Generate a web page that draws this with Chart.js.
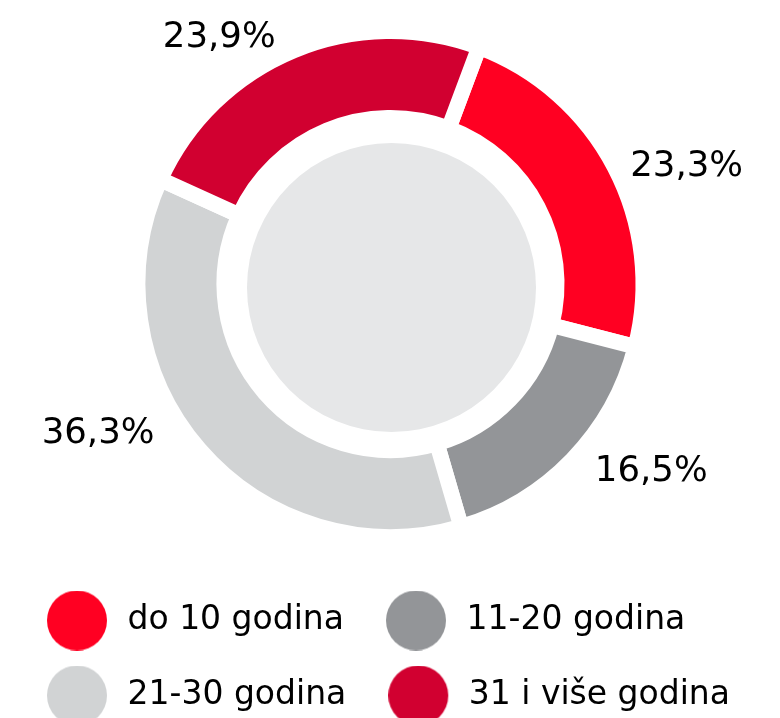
<!DOCTYPE html>
<html lang="hr">
<head>
<meta charset="utf-8">
<title>Starost</title>
<script src="https://cdn.jsdelivr.net/npm/chart.js@4.4.1/dist/chart.umd.min.js"></script>
<style>
  html, body { margin: 0; padding: 0; background: #fff; overflow: hidden; }
  #wrap { position: relative; width: 780px; height: 722px; }
</style>
</head>
<body>
<div id="wrap"><canvas id="age-chart"></canvas></div>
<script>
// ── Data ──
const categories  = ['do 10 godina', '11-20 godina', '21-30 godina', '31 i više godina'];
const shares      = [23.3, 16.5, 36.3, 23.9];
const shareLabels = ['23,3%', '16,5%', '36,3%', '23,9%'];

// ── Look ──
const colors     = ['#ff0022', '#939598', '#d1d3d4', '#d10030'];
const centerFill = '#e6e7e8';
const FONT       = '"DejaVu Sans", sans-serif';

// where each % label sits: shift from the slice's mid-angle (deg), distance from centre (px)
const labelShift = [5.3, -8.9, 14.3, -11.9];
const labelDist  = [320, 319, 327, 303];

// legend dot as a small canvas (chart.js draws canvas point styles as-is)
function dot(color) {
  const c = document.createElement('canvas');
  c.width = 64; c.height = 60;
  const g = c.getContext('2d');
  g.fillStyle = color;
  g.beginPath();
  g.arc(30, 30, 30, 0, Math.PI * 2);
  g.fill();
  return c;
}

// ── Centre disc + outside labels ──
const ringDecor = {
  id: 'ringDecor',
  beforeDatasetsDraw(chart) {
    const arc = chart.getDatasetMeta(0).data[0];
    if (!arc) return;
    const ctx = chart.ctx;
    ctx.save();
    ctx.fillStyle = centerFill;
    ctx.beginPath();
    ctx.arc(arc.x + 1, arc.y + 3.5, arc.innerRadius - 21.75, 0, Math.PI * 2);
    ctx.fill();
    ctx.restore();
  },
  afterDatasetsDraw(chart) {
    const ctx = chart.ctx;
    const size = 35.5;
    ctx.save();
    ctx.font = size + 'px ' + FONT;
    ctx.fillStyle = '#000';
    ctx.textAlign = 'center';
    ctx.textBaseline = 'alphabetic';
    chart.getDatasetMeta(0).data.forEach((arc, i) => {
      const a = (arc.startAngle + arc.endAngle) / 2 + labelShift[i] * Math.PI / 180;
      const x = arc.x + Math.cos(a) * labelDist[i];
      const y = arc.y + Math.sin(a) * labelDist[i];
      ctx.fillText(shareLabels[i], x, y + size * 0.3645);
    });
    ctx.restore();
  }
};

new Chart(document.getElementById('age-chart'), {
  type: 'doughnut',
  data: {
    labels: categories,
    datasets: [{
      data: shares,
      backgroundColor: colors,
      borderColor: '#ffffff',
      borderWidth: 15.5,
      borderJoinStyle: 'miter',
      hoverOffset: 0
    }]
  },
  options: {
    responsive: true,
    maintainAspectRatio: false,
    animation: false,
    events: [],
    rotation: 20.5,
    radius: 252.75,
    cutout: '65.78%',
    layout: { padding: { left: 5, right: 4, top: 6, bottom: 0 } },
    plugins: {
      tooltip: { enabled: false },
      legend: {
        position: 'bottom',
        align: 'start',
        labels: {
          usePointStyle: true,
          pointStyleWidth: 64,
          padding: 42,
          color: '#000',
          font: { family: FONT, size: 33 },
          generateLabels: () => categories.map((c, i) => ({
            text: c,
            fillStyle: colors[i],
            strokeStyle: colors[i],
            lineWidth: 0,
            pointStyle: dot(colors[i]),
            hidden: false,
            index: i
          }))
        }
      }
    }
  },
  plugins: [ringDecor]
});
</script>
</body>
</html>
